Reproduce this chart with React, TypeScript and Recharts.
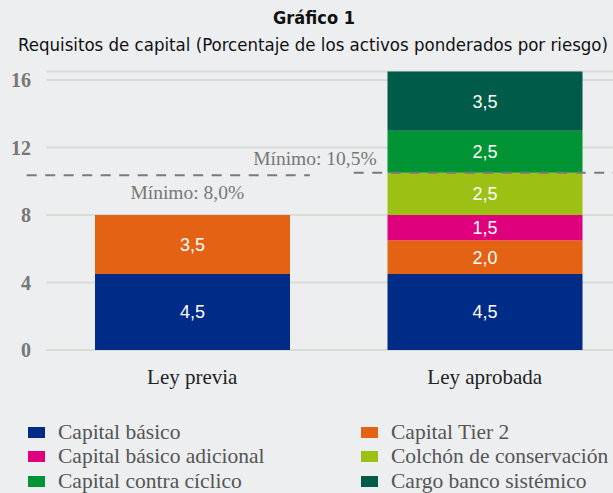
import React from 'react';
import { BarChart, Bar, XAxis, YAxis, CartesianGrid, ReferenceLine, LabelList } from 'recharts';

const categories = ['Ley previa', 'Ley aprobada'];
const capitalBasico = [4.5, 4.5];
const capitalTier2 = [3.5, 2.0];
const basicoAdicional = [null, 1.5];
const colchonConservacion = [null, 2.5];
const contraCiclico = [null, 2.5];
const cargoSistemico = [null, 3.5];
const yTicks = [0, 4, 8, 12, 16];
const minimoPrevia = 10.35;
const minimoAprobada = 10.5;

const series = [
  { key: 'basico', name: 'Capital básico', values: capitalBasico, color: '#002B87' },
  { key: 'tier2', name: 'Capital Tier 2', values: capitalTier2, color: '#E46213' },
  { key: 'adicional', name: 'Capital básico adicional', values: basicoAdicional, color: '#DF007E' },
  { key: 'colchon', name: 'Colchón de conservación', values: colchonConservacion, color: '#9DC014' },
  { key: 'ciclico', name: 'Capital contra cíclico', values: contraCiclico, color: '#009434' },
  { key: 'sistemico', name: 'Cargo banco sistémico', values: cargoSistemico, color: '#005B49' },
];

// legend is laid out in two columns, row by row
const legendOrder = ['basico', 'tier2', 'adicional', 'colchon', 'ciclico', 'sistemico'];

const data = categories.map((cat, i) => {
  const row: Record<string, any> = { cat, pos: i + 0.5 };
  series.forEach(s => { row[s.key] = s.values[i]; });
  return row;
});

const fmt = (v: any) => (v == null ? '' : Number(v).toFixed(1).replace('.', ','));

const serif = '"Liberation Serif", "Times New Roman", serif';
const sans = '"Liberation Sans", Arial, sans-serif';
const narrow = '"DejaVu Sans Condensed", "Liberation Sans Narrow", sans-serif';

const App: React.FC = () => {
  return (
    <div style={{ position: 'absolute', left: 0, top: 0, width: 613, height: 493, overflow: 'hidden', background: '#ECEEF0' }}>
      <svg width={613} height={60} style={{ position: 'absolute', left: 0, top: 0 }}>
        <text x={314} y={24} textAnchor="middle" fontFamily={narrow} fontWeight="bold" fontSize={18} fill="#111">
          Gráfico 1
        </text>
        <text x={18} y={51} textLength={590} lengthAdjust="spacingAndGlyphs" fontFamily={narrow} fontSize={17.5} fill="#111">
          Requisitos de capital (Porcentaje de los activos ponderados por riesgo)
        </text>
      </svg>

      <BarChart
        width={640}
        height={493}
        data={data}
        margin={{ top: 71.6, right: 9, bottom: 113, left: 0 }}
        style={{ position: 'absolute', left: 0, top: 0 }}
      >
        <CartesianGrid horizontal vertical={false} stroke="#DADCD8" strokeWidth={2} />
        <XAxis
          type="number"
          dataKey="pos"
          domain={[0, 2]}
          ticks={[0.5, 1.5]}
          tickFormatter={(v: number) => categories[Math.floor(v)]}
          axisLine={false}
          tickLine={false}
          tickSize={0}
          tickMargin={19}
          height={30}
          tick={{ fill: '#222', fontSize: 21, fontFamily: serif }}
        />
        <YAxis
          domain={[0, 16.5]}
          ticks={yTicks}
          width={46}
          axisLine={false}
          tickLine={false}
          tickSize={0}
          tickMargin={15}
          tick={{ fill: '#777', fontSize: 20, fontWeight: 'bold', fontFamily: serif }}
        />
        {series.map(s => (
          <Bar key={s.key} dataKey={s.key} name={s.name} stackId="a" fill={s.color} barSize={195} isAnimationActive={false}>
            <LabelList dataKey={s.key} position="center" formatter={fmt} fill="#fff" fontSize={18} fontFamily={sans} />
          </Bar>
        ))}
        <ReferenceLine
          segment={[{ x: -0.066, y: minimoPrevia }, { x: 0.902, y: minimoPrevia }]}
          ifOverflow="visible"
          stroke="#7A7A7A"
          strokeWidth={2}
          strokeDasharray="10 8.5"
          label={{
            content: (p: any) => {
              const vb = p.viewBox || {};
              const cx = (vb.x ?? 0) + (vb.width ?? 0) / 2 + 19;
              return (
                <text x={cx} y={(vb.y ?? 0) + 24} textAnchor="middle" fill="#777" fontSize={19.5} fontFamily={serif}>
                  Mínimo: 8,0%
                </text>
              );
            },
          }}
        />
        <ReferenceLine
          segment={[{ x: 1.052, y: minimoAprobada }, { x: 2.0, y: minimoAprobada }]}
          ifOverflow="visible"
          stroke="#7A7A7A"
          strokeWidth={2}
          strokeDasharray="10 8.5"
          label={{
            content: (p: any) => {
              const vb = p.viewBox || {};
              return (
                <text x={(vb.x ?? 0) + 23} y={(vb.y ?? 0) - 8} textAnchor="end" fill="#777" fontSize={19.5} fontFamily={serif}>
                  Mínimo: 10,5%
                </text>
              );
            },
          }}
        />
      </BarChart>

      <div style={{ position: 'absolute', left: 28, top: 420, fontFamily: serif, fontSize: 21.5, color: '#555', display: 'grid', gridTemplateColumns: '333px 280px', rowGap: 0 }}>
        {legendOrder.map(k => {
          const s = series.find(x => x.key === k)!;
          return (
            <div key={k} style={{ display: 'flex', alignItems: 'center', height: 24.5, whiteSpace: 'nowrap' }}>
              <span style={{ display: 'inline-block', width: 17, height: 11, background: s.color, marginRight: 13 }} />
              {s.name}
            </div>
          );
        })}
      </div>
    </div>
  );
};

export default App;
